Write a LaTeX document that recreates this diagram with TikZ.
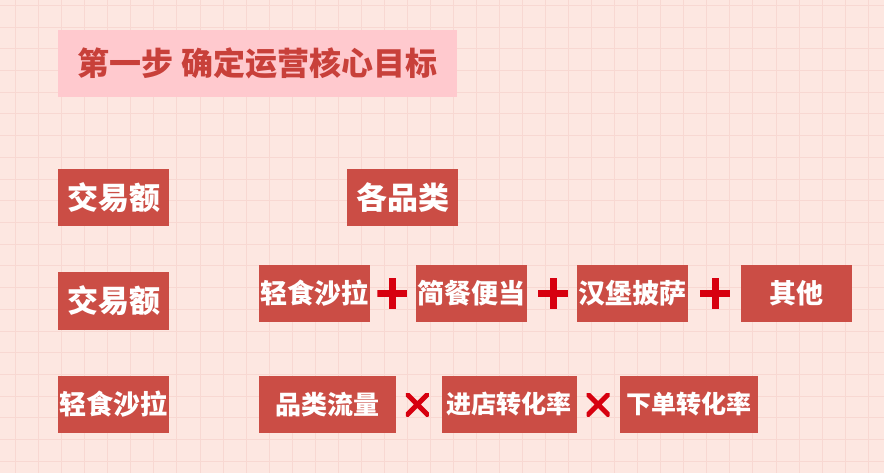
\documentclass[tikz,border=0pt]{standalone}
\usepackage{fontspec}
\usepackage{xcolor}
\usepackage{tikz}
\usetikzlibrary{positioning}
\newfontfamily\cjk{Noto Sans CJK SC}
\definecolor{paper}{HTML}{FDE7E1}
\definecolor{gridpink}{HTML}{F8D8D2}
\definecolor{titlepink}{HTML}{FFC9CE}
\definecolor{titlered}{HTML}{C8403A}
\definecolor{boxred}{HTML}{CB4D45}
\definecolor{signred}{HTML}{D7000F}

\begin{document}
\begin{tikzpicture}[
 x=1pt,y=-1pt,
 gridline/.style={gridpink,line width=1pt},
 titlebox/.style={fill=titlepink,text=titlered,font=\cjk\bfseries\fontsize{32}{32}\selectfont,minimum width=399pt,minimum height=67pt,inner sep=0pt},
 cell/.style={fill=boxred,text=white,font=\cjk\bfseries\fontsize{27}{27}\selectfont,minimum width=111pt,minimum height=57pt,inner sep=0pt},
 bigcell/.style={cell,font=\cjk\bfseries\fontsize{31}{31}\selectfont},
 plussign/.style={minimum size=30pt,inner sep=0pt,path picture={
   \draw[signred,line width=7pt] (path picture bounding box.north) -- (path picture bounding box.south)
     (path picture bounding box.west) -- (path picture bounding box.east);}},
 timessign/.style={minimum size=23pt,inner sep=0pt,path picture={
   \draw[signred,line width=5pt] (path picture bounding box.north west) -- (path picture bounding box.south east)
     (path picture bounding box.south west) -- (path picture bounding box.north east);}},
]
\useasboundingbox (0,0) rectangle (884,473);
\fill[paper] (0,0) rectangle (884,473);
\foreach \i in {0,...,37} \draw[gridline] (15.7+\i*23.04,0) -- (15.7+\i*23.04,473);
\foreach \j in {0,...,21} \draw[gridline] (0,5.5+\j*21.7) -- (884,5.5+\j*21.7);

% heading
\node[titlebox] (title) at (257.5,63.5) {第一步 确定运营核心目标};

% row 1
\node[bigcell] (sales1) at (113.5,197.5) {交易额};
\node[bigcell] (cats) at (402.5,197.5) {各品类};

% row 2
\node[bigcell] (sales2) at (113.5,301) {交易额};
\node[cell] (salad2) at (314.5,293.5) {轻食沙拉};
\node[plussign,right=7pt of salad2] (plusa) {};
\node[cell,right=8pt of plusa] (meal) {简餐便当};
\node[plussign,right=11pt of meal] (plusb) {};
\node[cell,right=8pt of plusb] (burger) {汉堡披萨};
\node[plussign,right=12pt of burger] (plusc) {};
\node[cell,right=11pt of plusc] (other) {其他};

% row 3
\node[cell] (salad3) at (113.5,404.5) {轻食沙拉};
\node[cell,minimum width=137pt,font=\cjk\bfseries\fontsize{26}{26}\selectfont] (flow) at (327.5,404.5) {品类流量};
\node[timessign,right=9.5pt of flow] (timesa) {};
\node[cell,minimum width=135pt,font=\cjk\bfseries\fontsize{25}{25}\selectfont,right=12.5pt of timesa] (visit) {进店转化率};
\node[timessign,right=9.5pt of visit] (timesb) {};
\node[cell,minimum width=138pt,font=\cjk\bfseries\fontsize{25}{25}\selectfont,right=9.5pt of timesb] (order) {下单转化率};
\end{tikzpicture}
\end{document}
